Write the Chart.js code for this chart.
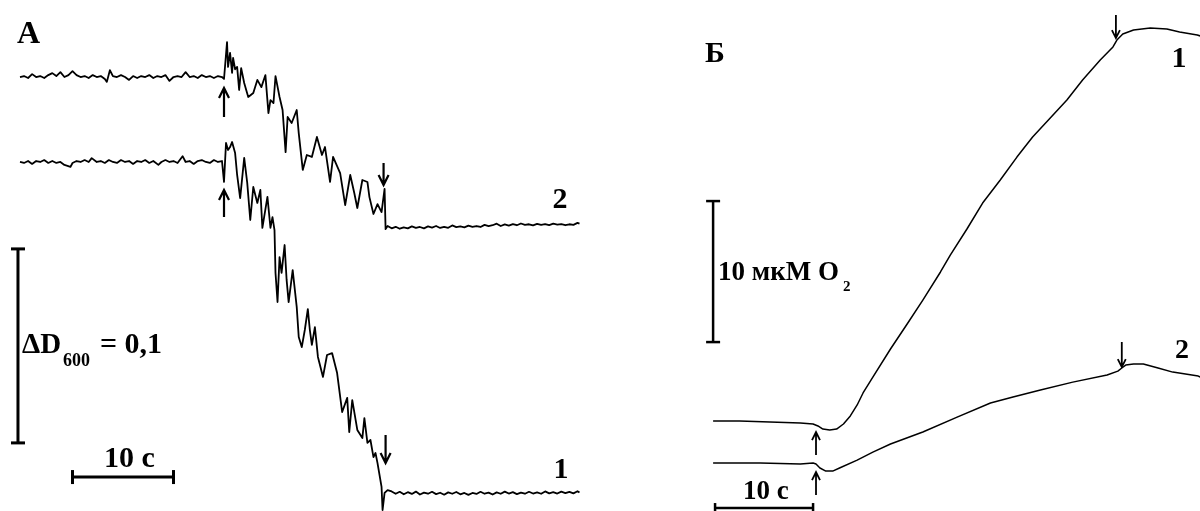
<!DOCTYPE html>
<html lang="ru">
  <head>
    <meta charset="UTF-8" />
    <title>ΔD600 и выделение O2</title>
    <style>
      body {
        margin: 0;
        background: #fff;
      }
      #wrap {
        position: relative;
        width: 1200px;
        height: 511px;
      }
      canvas {
        position: absolute;
        top: 0;
      }
      #panelA {
        left: 0;
      }
      #panelB {
        left: 600px;
      }
    </style>
  </head>
  <body>
    <div id="wrap">
      <canvas id="panelA" width="600" height="511"></canvas>
      <canvas id="panelB" width="600" height="511"></canvas>
    </div>

    <script src="https://cdn.jsdelivr.net/npm/chart.js@4.4.0/dist/chart.umd.min.js"></script>
    <script>
      // Панель А: время, с (0 = добавление), изменение D600 в тысячных
      const traceA2 = [
        [-20.2, 0], [-19.8, 0.5], [-19.4, -0.5], [-19.0, 1.5], [-18.6, 0], [-18.2, 0.5],
        [-17.8, -0.5], [-17.4, 1], [-17.0, 2], [-16.6, 0.5], [-16.2, 2.5], [-15.8, 0],
        [-15.4, 1], [-15.0, 3], [-14.6, 1], [-14.2, 0], [-13.8, 0.5], [-13.4, -0.5],
        [-13.0, 1], [-12.6, 0], [-12.2, 0.5], [-11.8, -1], [-11.6, -2.5], [-11.3, 3.5],
        [-11.0, 0.5], [-10.6, 0], [-10.2, 1], [-9.8, 0], [-9.4, -1.5], [-9.0, 0.5],
        [-8.6, -0.5], [-8.2, 0.5], [-7.8, 0], [-7.4, 1], [-7.0, -0.5], [-6.6, 0.5],
        [-6.2, 0], [-5.8, 1], [-5.4, -2], [-5.0, 0], [-4.6, 0.5], [-4.2, 0],
        [-3.8, 2.5], [-3.4, 0], [-3.0, 0.5], [-2.6, -0.5], [-2.2, 1], [-1.8, 0],
        [-1.4, 0.5], [-1.0, -0.5], [-0.6, 0.5], [-0.2, 0], [0, -1],
        [0.3, 18.0], [0.4, 5.2], [0.6, 12.4], [0.8, 2.1], [0.9, 9.8], [1.1, 4.0],
        [1.3, 5.2], [1.5, -6.7], [1.7, 4.6], [2.0, -3.1], [2.4, -10.3], [2.9, -8.2],
        [3.3, -1.5], [3.7, -5.2], [4.1, 1.0], [4.4, -18.6], [4.6, -11.9], [4.9, -13.4],
        [5.1, 0.5], [5.5, -10.3], [5.8, -17.0], [6.1, -38.7], [6.3, -20.6], [6.7, -23.7],
        [7.2, -17.0], [7.4, -28.9], [7.8, -47.9], [8.2, -40.2], [8.7, -41.2], [9.2, -30.9],
        [9.7, -40.2], [10.0, -36.1], [10.5, -54.1], [10.8, -41.2], [11.5, -49.5], [12.0, -66.0],
        [12.5, -50.5], [12.9, -59.8], [13.2, -67.5], [13.7, -53.1], [14.2, -54.1], [14.4, -61.9],
        [14.8, -70.6], [15.2, -65.5], [15.6, -69.6], [15.9, -57.7], [16.0, -78.4], [16.2, -76.8],
        [16.6, -78.0], [17.0, -77.2], [17.4, -78.2], [17.8, -77.5], [18.2, -78.0], [18.6, -77.0],
        [19.0, -77.8], [19.4, -77.3], [19.8, -78.0], [20.2, -77.0], [20.6, -77.6], [21.0, -76.8],
        [21.4, -77.8], [21.8, -77.2], [22.2, -77.7], [22.6, -76.5], [23.0, -77.4], [23.4, -77.0],
        [23.8, -77.5], [24.2, -76.6], [24.6, -77.2], [25.0, -76.8], [25.4, -77.3], [25.8, -76.2],
        [26.2, -76.9], [26.6, -76.4], [27.0, -75.6], [27.4, -76.8], [27.8, -76.0], [28.2, -76.6],
        [28.6, -75.8], [29.0, -76.4], [29.4, -75.5], [29.8, -76.2], [30.2, -75.9], [30.6, -76.5],
        [31.0, -75.7], [31.4, -76.2], [31.8, -75.8], [32.2, -76.3], [32.6, -75.6], [33.0, -76.1],
        [33.4, -75.8], [33.8, -76.4], [34.2, -75.9], [34.6, -76.2], [35.0, -75.2], [35.2, -75.6],
      ];

      const traceA1 = [
        [-20.2, 0], [-19.8, -0.5], [-19.4, 0.5], [-19.0, -1], [-18.6, 0.5], [-18.2, 0],
        [-17.8, 1], [-17.4, -0.5], [-17.0, 0.5], [-16.6, -0.5], [-16.2, 0], [-15.8, -1.5],
        [-15.2, -2.5], [-15.0, -0.5], [-14.6, 0.5], [-14.2, 0], [-13.8, 1], [-13.4, 0],
        [-13.1, 2], [-12.6, 0], [-12.2, 0.5], [-11.8, -0.5], [-11.4, 1], [-11.0, 0],
        [-10.6, -0.5], [-10.2, 1], [-9.8, 0], [-9.4, 0.5], [-9.0, -1], [-8.6, 0.5],
        [-8.2, 0], [-7.8, 1], [-7.4, -0.5], [-7.0, 0.5], [-6.5, -1.5], [-6.2, 0],
        [-5.8, 1], [-5.4, 0], [-5.0, 0.5], [-4.6, -0.5], [-4.1, 3], [-3.8, 0],
        [-3.4, 0.5], [-3.0, -1], [-2.6, 0.5], [-2.2, 1], [-1.8, 0], [-1.4, -0.5],
        [-1.0, 1], [-0.6, 0], [-0.2, 0.5], [0, -10.3],
        [0.2, 9.8], [0.4, 6.2], [0.6, 7.7], [0.8, 10.3], [1.1, 4.6], [1.3, -6.7],
        [1.6, -18.6], [2.0, 2.1], [2.3, -10.8], [2.6, -29.9], [2.9, -12.9], [3.3, -21.1],
        [3.6, -14.4], [3.8, -34.0], [4.3, -18.0], [4.6, -34.0], [4.8, -28.4], [5.0, -35.1],
        [5.1, -57.2], [5.3, -72.2], [5.5, -49.0], [5.7, -57.2], [6.0, -42.8], [6.2, -60.8],
        [6.4, -72.2], [6.8, -55.7], [7.2, -74.7], [7.4, -90.2], [7.7, -95.4], [8.0, -86.6],
        [8.3, -75.8], [8.5, -86.6], [8.7, -94.3], [9.0, -85.1], [9.3, -100.5], [9.8, -110.8],
        [10.2, -99.5], [10.7, -98.5], [11.2, -108.8], [11.7, -128.9], [12.2, -121.6], [12.4, -139.2],
        [12.7, -122.7], [13.2, -138.1], [13.7, -142.3], [13.9, -132.0], [14.2, -144.8], [14.5, -143.3],
        [14.8, -152.1], [15.0, -150.0], [15.2, -155.2], [15.6, -167.5], [15.7, -179.4], [15.9, -170.6],
        [16.2, -169.1], [16.6, -169.8], [17.0, -171.0], [17.4, -170.0], [17.8, -171.3], [18.2, -170.2],
        [18.6, -171.1], [19.0, -169.9], [19.4, -171.4], [19.8, -170.4], [20.2, -171.0], [20.6, -170.0],
        [21.0, -171.2], [21.4, -170.5], [21.8, -171.5], [22.2, -170.3], [22.6, -171.0], [23.0, -170.1],
        [23.4, -171.3], [23.8, -170.6], [24.2, -171.6], [24.6, -170.6], [25.0, -171.1], [25.4, -170.0],
        [25.8, -171.0], [26.2, -170.4], [26.6, -171.4], [27.0, -170.3], [27.4, -171.0], [27.8, -169.9],
        [28.2, -170.9], [28.6, -170.2], [29.0, -171.2], [29.4, -170.4], [29.8, -171.0], [30.2, -170.0],
        [30.6, -170.9], [31.0, -170.3], [31.4, -171.0], [31.8, -169.8], [32.2, -170.8], [32.6, -170.2],
        [33.0, -170.9], [33.4, -169.9], [33.8, -170.7], [34.2, -170.0], [34.6, -170.8], [35.0, -169.7],
        [35.2, -170.4],
      ];

      // Панель Б: время, с, изменение концентрации O2, мкМ
      const traceB1 = [
        [-10.5, 0.07], [-7.8, 0.07], [-4.7, 0], [-1.6, -0.07], [-0.3, -0.14], [0.2, -0.28],
        [0.7, -0.5], [1.4, -0.57], [2.1, -0.5], [2.8, -0.14], [3.5, 0.43], [4.2, 1.21],
        [4.8, 2.06], [5.8, 3.19], [7.6, 5.18], [9.3, 6.95], [10.9, 8.65], [12.7, 10.64],
        [13.7, 11.84], [15.4, 13.69], [17.0, 15.53], [18.8, 17.16], [20.5, 18.79], [22.1, 20.21],
        [23.9, 21.56], [25.6, 22.84], [27.2, 24.26], [29.0, 25.67], [30.3, 26.6], [30.7, 27.09],
        [31.3, 27.52], [32.4, 27.8], [34.1, 27.94], [35.8, 27.87], [37.1, 27.66], [38.9, 27.45],
        [39.2, 27.38],
      ];

      const traceB2 = [
        [-10.5, 0], [-5.7, 0], [-1.6, -0.07], [-0.3, 0], [0, -0.07], [0.4, -0.35],
        [1.0, -0.57], [1.7, -0.57], [2.4, -0.35], [4.2, 0.21], [5.8, 0.78], [7.6, 1.35],
        [10.9, 2.2], [14.4, 3.26], [17.8, 4.26], [20.1, 4.68], [22.9, 5.18], [26.2, 5.74],
        [29.7, 6.24], [30.8, 6.52], [31.2, 6.74], [31.6, 6.95], [32.4, 7.02], [33.4, 7.02],
        [34.9, 6.74], [36.4, 6.45], [39.0, 6.17], [39.2, 6.1],
      ];

      // сдвиг кривых по вертикали (для наглядности)
      const shiftA = { curve2: 43.8, curve1: 0 };
      const shiftB = { curve1: 0, curve2: -2.91 };

      // стрелки: момент добавления / удаления (в единицах осей)
      const arrowsA = [
        { t: 0, from: 23.2, to: 38.1 },
        { t: 0, from: -28.4, to: -14.4 },
        { t: 15.8, from: -0.5, to: -11.9 },
        { t: 16.0, from: -140.7, to: -155.2 },
      ];
      const arrowsB = [
        { t: 0, from: -2.34, to: -0.71 },
        { t: 0, from: -5.18, to: -3.55 },
        { t: 30.6, from: 28.87, to: 27.23 },
        { t: 31.2, from: 5.67, to: 3.9 },
      ];

      const FONT = '"Liberation Serif", "Times New Roman", serif';

      function traceDataset(points, shift, width) {
        return {
          data: points.map(([t, v]) => ({ x: t, y: v + shift })),
          borderColor: "#000",
          borderWidth: width,
          borderJoinStyle: "round",
          pointRadius: 0,
          tension: 0,
          fill: false,
        };
      }

      // масштабная черта с засечками на концах
      function barDataset(p0, p1, cap, rotation, width) {
        return {
          data: [p0, p1],
          borderColor: "#000",
          borderWidth: width,
          pointStyle: "line",
          pointRadius: cap,
          pointHoverRadius: cap,
          pointBorderColor: "#000",
          pointBorderWidth: width,
          pointRotation: rotation,
          fill: false,
        };
      }

      const arrowPlugin = {
        id: "arrows",
        afterDatasetsDraw(chart, args, opts) {
          const { ctx, scales } = chart;
          ctx.save();
          ctx.strokeStyle = "#000";
          ctx.lineWidth = opts.width;
          opts.items.forEach((a) => {
            const px = scales.x.getPixelForValue(a.t);
            const p0 = scales.y.getPixelForValue(a.from);
            const p1 = scales.y.getPixelForValue(a.to);
            const dir = p1 > p0 ? 1 : -1;
            ctx.beginPath();
            ctx.moveTo(px, p0);
            ctx.lineTo(px, p1);
            ctx.moveTo(px - opts.head, p1 - dir * opts.headLen);
            ctx.lineTo(px, p1);
            ctx.lineTo(px + opts.head, p1 - dir * opts.headLen);
            ctx.stroke();
          });
          ctx.restore();
        },
      };

      const textPlugin = {
        id: "texts",
        afterDraw(chart, args, opts) {
          const ctx = chart.ctx;
          ctx.save();
          ctx.fillStyle = "#000";
          ctx.textBaseline = "alphabetic";
          opts.items.forEach((it) => {
            ctx.font = `bold ${it.size}px ${FONT}`;
            ctx.textAlign = it.align || "left";
            ctx.fillText(it.text, it.x, it.y);
          });
          ctx.restore();
        },
      };

      function makePanel(id, datasets, xRange, yRange, arrows, texts) {
        return new Chart(document.getElementById(id), {
          type: "line",
          data: { datasets },
          options: {
            responsive: false,
            animation: false,
            devicePixelRatio: 1,
            events: [],
            layout: { padding: 0, autoPadding: false },
            scales: {
              x: { type: "linear", display: false, min: xRange[0], max: xRange[1] },
              y: { type: "linear", display: false, min: yRange[0], max: yRange[1] },
            },
            plugins: {
              legend: { display: false },
              tooltip: { enabled: false },
              arrows: arrows,
              texts: { items: texts },
            },
          },
          plugins: [arrowPlugin, textPlugin],
        });
      }

      // Панель А
      makePanel(
        "panelA",
        [
          traceDataset(traceA2, shiftA.curve2, 1.8),
          traceDataset(traceA1, shiftA.curve1, 1.8),
          barDataset({ x: -20.4, y: -44.8 }, { x: -20.4, y: -144.8 }, 7, 0, 3),
          barDataset({ x: -15, y: -162.4 }, { x: -5, y: -162.4 }, 7, 90, 3),
        ],
        [-22.18, 37.23],
        [-179.9, 83.5],
        { items: arrowsA, width: 2.2, head: 5, headLen: 10 },
        [
          { text: "А", x: 17, y: 43, size: 32 },
          { text: "2", x: 560, y: 208, size: 30, align: "center" },
          { text: "1", x: 561, y: 478, size: 30, align: "center" },
          { text: "ΔD", x: 22, y: 353, size: 29 },
          { text: "600", x: 63, y: 366, size: 18 },
          { text: "= 0,1", x: 100, y: 353, size: 30 },
          { text: "10 с", x: 104, y: 467, size: 30 },
        ]
      );

      // Панель Б
      makePanel(
        "panelB",
        [
          traceDataset(traceB1, shiftB.curve1, 1.5),
          traceDataset(traceB2, shiftB.curve2, 1.5),
          barDataset({ x: -10.5, y: 15.67 }, { x: -10.5, y: 5.67 }, 7, 0, 2.5),
          barDataset({ x: -10.3, y: -6.1 }, { x: -0.3, y: -6.1 }, 5, 90, 2.5),
        ],
        [-22.04, 39.18],
        [-6.31, 29.93],
        { items: arrowsB, width: 1.8, head: 4, headLen: 8 },
        [
          { text: "Б", x: 105, y: 62, size: 30 },
          { text: "1", x: 579, y: 67, size: 30, align: "center" },
          { text: "2", x: 582, y: 358, size: 28, align: "center" },
          { text: "10 мкМ O", x: 118, y: 280, size: 27 },
          { text: "2", x: 243, y: 291, size: 15 },
          { text: "10 с", x: 143, y: 499, size: 27 },
        ]
      );
    </script>
  </body>
</html>
